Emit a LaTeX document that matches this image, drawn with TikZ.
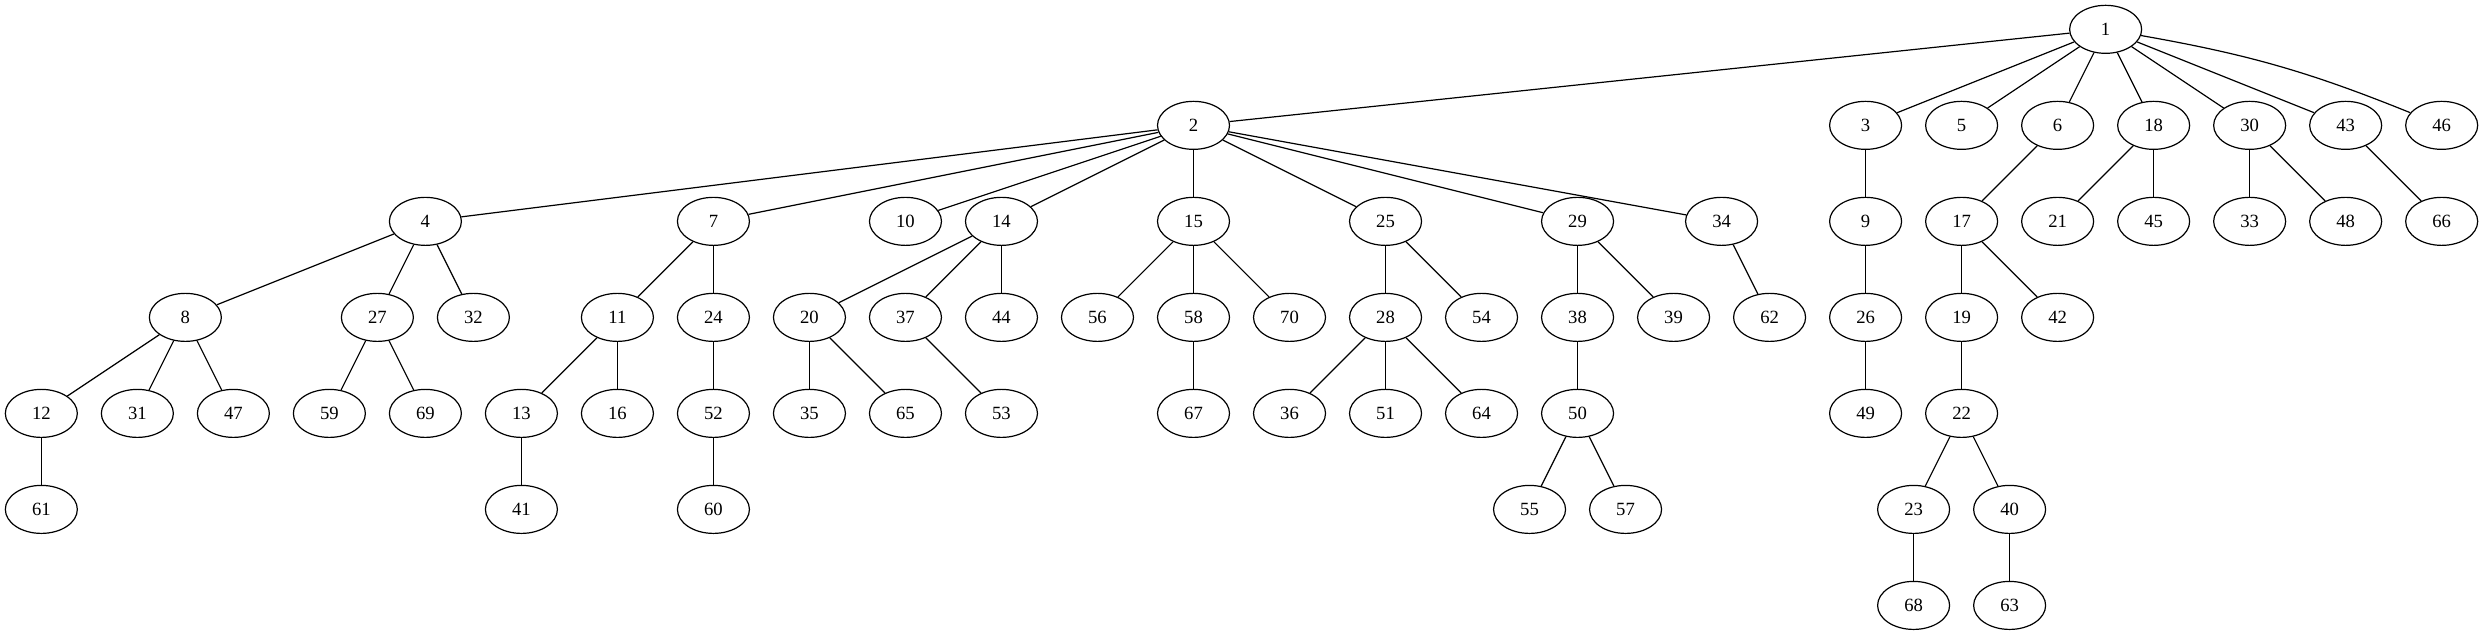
\documentclass[tikz,border=0pt]{standalone}
\usepackage{fontspec}
\setmainfont{Liberation Serif}
\usetikzlibrary{shapes.geometric}
\begin{document}
\begin{tikzpicture}[x=1pt,y=-1pt,
  v/.style={ellipse,draw,line width=0.9pt,minimum width=54pt,minimum height=36pt,inner sep=0pt,font=\fontsize{14}{16}\selectfont},
  e/.style={line width=0.9pt}]
\useasboundingbox (0,0) rectangle (1862,476);
% row 0
\node[v] (n1) at (1579,22) {1};
% row 1
\foreach \n/\x in {2/895,3/1399,5/1471,6/1543,18/1615,30/1687,43/1759,46/1831}
  \node[v] (n\n) at (\x,94) {\n};
% row 2
\foreach \n/\x in {4/319,7/535,10/679,14/751,15/895,25/1039,29/1183,34/1291,9/1399,17/1471,21/1543,45/1615,33/1687,48/1759,66/1831}
  \node[v] (n\n) at (\x,166) {\n};
% row 3
\foreach \n/\x in {8/139,27/283,32/355,11/463,24/535,20/607,37/679,44/751,56/823,58/895,70/967,28/1039,54/1111,38/1183,39/1255,62/1327,26/1399,19/1471,42/1543}
  \node[v] (n\n) at (\x,238) {\n};
% row 4
\foreach \n/\x in {12/31,31/103,47/175,59/247,69/319,13/391,16/463,52/535,35/607,65/679,53/751,67/895,36/967,51/1039,64/1111,50/1183,49/1399,22/1471}
  \node[v] (n\n) at (\x,310) {\n};
% row 5
\foreach \n/\x in {61/31,41/391,60/535,55/1147,57/1219,23/1435,40/1507}
  \node[v] (n\n) at (\x,382) {\n};
% row 6
\foreach \n/\x in {68/1435,63/1507}
  \node[v] (n\n) at (\x,454) {\n};
% edges
\foreach \a/\b in {1/2,1/3,1/5,1/6,1/18,1/30,1/43,
  2/4,2/7,2/10,2/14,2/15,2/25,2/29,2/34,
  4/8,4/27,4/32,7/11,7/24,14/20,14/37,14/44,15/56,15/58,15/70,25/28,25/54,29/38,29/39,34/62,
  3/9,6/17,18/21,18/45,30/33,30/48,43/66,
  8/12,8/31,8/47,27/59,27/69,11/13,11/16,24/52,20/35,20/65,37/53,58/67,28/36,28/51,28/64,38/50,9/26,17/19,17/42,
  12/61,13/41,52/60,50/55,50/57,26/49,19/22,
  22/23,22/40,23/68,40/63}
  \draw[e] (n\a) -- (n\b);
\draw[e] (n1) to[bend left=6] (n46);
\end{tikzpicture}
\end{document}
